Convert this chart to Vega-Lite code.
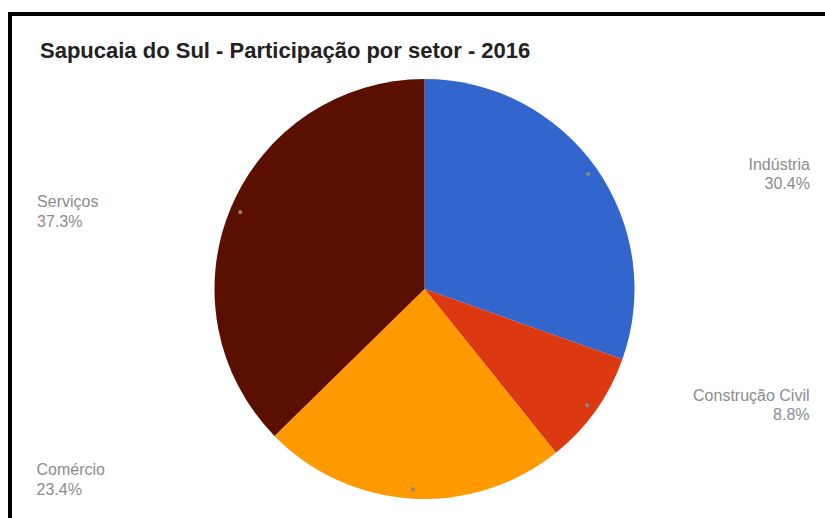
{
  "$schema": "https://vega.github.io/schema/vega-lite/v6.json",
  "autosize": {"type": "none"},
  "padding": {"left": 10, "top": 14, "right": -14, "bottom": -46},
  "width": 829,
  "height": 550,
  "background": "white",
  "view": {"stroke": "black", "strokeWidth": 4, "fill": "white"},
  "config": {
    "view": {"stroke": "black", "strokeWidth": 4},
    "text": {"font": "Liberation Sans"}
  },
  "title": {
    "text": "Sapucaia do Sul - Participação por setor - 2016",
    "anchor": "start",
    "frame": "group",
    "dx": 30,
    "offset": -66,
    "baseline": "alphabetic",
    "font": "Liberation Sans",
    "fontSize": 22,
    "fontWeight": "bold",
    "color": "#222222"
  },
  "data": {
    "values": [
      {"setor": "Indústria", "valor": 0.304, "ordem": 1},
      {"setor": "Construção Civil", "valor": 0.088, "ordem": 2},
      {"setor": "Comércio", "valor": 0.234, "ordem": 3},
      {"setor": "Serviços", "valor": 0.373, "ordem": 4}
    ]
  },
  "encoding": {
    "theta": {"field": "valor", "type": "quantitative", "stack": true},
    "order": {"field": "ordem", "type": "quantitative"}
  },
  "layer": [
    {
      "mark": {"type": "arc", "outerRadius": 210},
      "encoding": {
        "color": {
          "field": "setor",
          "type": "nominal",
          "scale": {
            "domain": ["Indústria", "Construção Civil", "Comércio", "Serviços"],
            "range": ["#3366cc", "#dc3912", "#ff9900", "#5b0f00"]
          },
          "legend": null
        }
      }
    },
    {
      "mark": {"type": "text", "radius": 200, "align": "center", "baseline": "middle", "fontSize": 9, "color": "#8a8a8a"},
      "encoding": {"detail": {"field": "setor"}, "text": {"value": "●"}}
    },
    {
      "mark": {"type": "text", "radius": 200, "align": "right", "baseline": "alphabetic", "dx": 222, "dy": -4, "fontSize": 16, "color": "#8c8c8c"},
      "encoding": {
        "detail": {"field": "setor"},
        "text": {"condition": {"test": {"field": "setor", "oneOf": ["Indústria", "Construção Civil"]}, "field": "setor"}, "value": ""}
      }
    },
    {
      "mark": {"type": "text", "radius": 200, "align": "right", "baseline": "alphabetic", "dx": 222, "dy": 15.5, "fontSize": 16, "color": "#8c8c8c"},
      "encoding": {
        "detail": {"field": "setor"},
        "text": {"condition": {"test": {"field": "setor", "oneOf": ["Indústria", "Construção Civil"]}, "field": "valor", "type": "quantitative", "format": ".1%"}, "value": ""}
      }
    },
    {
      "mark": {"type": "text", "radius": 200, "align": "left", "baseline": "alphabetic", "dx": -203, "dy": -4.5, "fontSize": 16, "color": "#8c8c8c"},
      "encoding": {
        "detail": {"field": "setor"},
        "text": {"condition": {"test": {"field": "setor", "equal": "Serviços"}, "field": "setor"}, "value": ""}
      }
    },
    {
      "mark": {"type": "text", "radius": 200, "align": "left", "baseline": "alphabetic", "dx": -203, "dy": 15.5, "fontSize": 16, "color": "#8c8c8c"},
      "encoding": {
        "detail": {"field": "setor"},
        "text": {"condition": {"test": {"field": "setor", "equal": "Serviços"}, "field": "valor", "type": "quantitative", "format": ".1%"}, "value": ""}
      }
    },
    {
      "mark": {"type": "text", "radius": 200, "align": "left", "baseline": "alphabetic", "dx": -376, "dy": -13.6, "fontSize": 16, "color": "#8c8c8c"},
      "encoding": {
        "detail": {"field": "setor"},
        "text": {"condition": {"test": {"field": "setor", "equal": "Comércio"}, "field": "setor"}, "value": ""}
      }
    },
    {
      "mark": {"type": "text", "radius": 200, "align": "left", "baseline": "alphabetic", "dx": -376, "dy": 6.4, "fontSize": 16, "color": "#8c8c8c"},
      "encoding": {
        "detail": {"field": "setor"},
        "text": {"condition": {"test": {"field": "setor", "equal": "Comércio"}, "field": "valor", "type": "quantitative", "format": ".1%"}, "value": ""}
      }
    }
  ]
}
